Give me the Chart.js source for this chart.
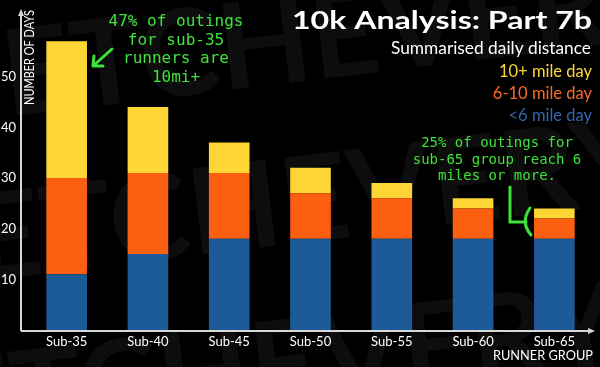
<!DOCTYPE html>
<html><head><meta charset="utf-8">
<script src="https://cdn.jsdelivr.net/npm/chart.js@4"></script>
<style>html,body{margin:0;padding:0;background:#000;overflow:hidden}#wrap{width:600px;height:367px;position:relative}</style>
</head><body><div id="wrap"><canvas id="c" width="600" height="367"></canvas></div>
<script>
const categories = ['Sub-35','Sub-40','Sub-45','Sub-50','Sub-55','Sub-60','Sub-65'];
const under6 = [11,15,18,18,18,18,18];
const sixTo10 = [19,16,13,9,8,6,4];
const over10 = [27,13,6,5,3,2,2];
const seriesLabels = ['<6 mile day','6-10 mile day','10+ mile day'];
const seriesColors = ['#1d5a98','#fb5f0f','#fdd535'];
const legendColors = ['#2f68ad','#fb6a25','#fdd535'];
const yTicks = [10,20,30,40,50];
const titleText = '10k Analysis: Part 7b';
const subtitleText = 'Summarised daily distance';
const yAxisTitle = 'NUMBER OF DAYS';
const xAxisTitle = 'RUNNER GROUP';
const noteLeft = ['47% of outings','for sub-35','runners are','10mi+'];
const noteRight = ['25% of outings for','sub-65 group reach 6','miles or more.'];
const watermark = 'FETCHEVERYONE';

const FONT = 'Lato, "Open Sans", sans-serif';
const GREEN = '#3fe23a';

// draw right-aligned text, horizontally scaled to a target width
function fitRight(ctx, text, xRight, y, width){
  const w = ctx.measureText(text).width;
  const s = width / w;
  ctx.save();
  ctx.translate(xRight - width, y);
  ctx.scale(s, 1);
  ctx.textAlign = 'left';
  ctx.fillText(text, 0, 0);
  ctx.restore();
}

const decor = {
  id:'decor',
  beforeDraw(chart){
    const ctx = chart.ctx;
    ctx.save();
    ctx.fillStyle = '#000';
    ctx.fillRect(0,0,chart.width,chart.height);
    ctx.fillStyle = '#0d0d0d';
    ctx.font = 'bold 120px ' + FONT;
    ctx.textBaseline = 'alphabetic';
    const rows = [[-60,125],[-90,290],[-120,455]];
    rows.forEach(r=>{
      ctx.save();
      ctx.translate(r[0], r[1]);
      ctx.rotate(-0.12);
      ctx.fillText(watermark, 0, 0);
      ctx.restore();
    });
    ctx.restore();
  },
  afterDraw(chart){
    const ctx = chart.ctx;
    ctx.save();
    // axes
    ctx.strokeStyle = '#d8d8d8';
    ctx.fillStyle = '#d8d8d8';
    ctx.lineWidth = 2;
    const ax = 21, ay = 331;
    ctx.beginPath();
    ctx.moveTo(ax, ay); ctx.lineTo(ax, 14);
    ctx.moveTo(ax, ay); ctx.lineTo(590, ay);
    ctx.stroke();
    ctx.beginPath();
    ctx.moveTo(ax, 9); ctx.lineTo(ax-3, 16); ctx.lineTo(ax+3, 16); ctx.closePath(); ctx.fill();
    ctx.beginPath();
    ctx.moveTo(595, ay); ctx.lineTo(588, ay-3); ctx.lineTo(588, ay+3); ctx.closePath(); ctx.fill();

    // axis titles
    ctx.fillStyle = '#ffffff';
    ctx.textBaseline = 'alphabetic';
    ctx.font = '12.5px ' + FONT;
    ctx.save();
    ctx.translate(34, 105);
    ctx.rotate(-Math.PI/2);
    fitRight(ctx, yAxisTitle, 95, 0, 95);
    ctx.restore();
    ctx.font = '14px ' + FONT;
    fitRight(ctx, xAxisTitle, 593, 360, 100);

    // title
    ctx.font = 'bold 24px ' + FONT;
    fitRight(ctx, titleText, 592, 29, 300);
    ctx.font = '17px ' + FONT;
    fitRight(ctx, subtitleText, 591, 54, 200);
    // legend (reverse order)
    ctx.textAlign = 'right';
    ctx.font = '16.5px ' + FONT;
    const ly = [121, 99, 77];
    for (let i=0;i<3;i++){
      ctx.fillStyle = legendColors[i];
      ctx.fillText(seriesLabels[i], 592, ly[i]);
    }

    // notes
    ctx.fillStyle = GREEN;
    ctx.textAlign = 'center';
    ctx.font = '16px "DejaVu Sans Mono", monospace';
    noteLeft.forEach((t,i)=>ctx.fillText(t, 176, 26 + i*18.7));
    ctx.font = '14px "DejaVu Sans Mono", monospace';
    noteRight.forEach((t,i)=>ctx.fillText(t, 497, 147 + i*16.5));

    // arrow
    ctx.strokeStyle = GREEN;
    ctx.lineWidth = 3;
    ctx.lineCap = 'round';
    ctx.beginPath();
    ctx.moveTo(112, 49); ctx.lineTo(93, 66);
    ctx.moveTo(93, 66); ctx.lineTo(94, 56);
    ctx.moveTo(93, 66); ctx.lineTo(103, 66);
    ctx.stroke();
    // bracket
    ctx.beginPath();
    ctx.moveTo(510, 187); ctx.lineTo(510, 222); ctx.lineTo(526, 222);
    ctx.stroke();
    ctx.beginPath();
    ctx.moveTo(530, 208);
    ctx.quadraticCurveTo(520, 222, 531, 235);
    ctx.stroke();
    ctx.restore();
  }
};

new Chart(document.getElementById('c'), {
  type:'bar',
  data:{
    labels: categories,
    datasets:[
      {label: seriesLabels[0], data: under6, backgroundColor: seriesColors[0]},
      {label: seriesLabels[1], data: sixTo10, backgroundColor: seriesColors[1]},
      {label: seriesLabels[2], data: over10, backgroundColor: seriesColors[2]}
    ]
  },
  options:{
    responsive:false,
    animation:false,
    devicePixelRatio:1,
    layout:{padding:{top:26, right:5, left:0, bottom:0}},
    datasets:{bar:{categoryPercentage:1, barPercentage:0.5, borderWidth:0}},
    plugins:{legend:{display:false}, title:{display:false}, tooltip:{enabled:false}},
    scales:{
      x:{
        stacked:true, offset:true,
        grid:{display:false, drawTicks:false}, border:{display:false},
        ticks:{color:'#ffffff', font:{family:FONT, size:13}, padding:4, maxRotation:0, autoSkip:false},
        afterFit(s){ s.height = 37; }
      },
      y:{
        stacked:true, min:0, max:60,
        grid:{display:false, drawTicks:false}, border:{display:false},
        ticks:{stepSize:10, color:'#ffffff', font:{family:FONT, size:13}, padding:10,
          callback:(v)=> yTicks.includes(v) ? String(v) : ''},
        afterFit(s){ s.width = 26; }
      }
    }
  },
  plugins:[decor]
});
</script></body></html>
